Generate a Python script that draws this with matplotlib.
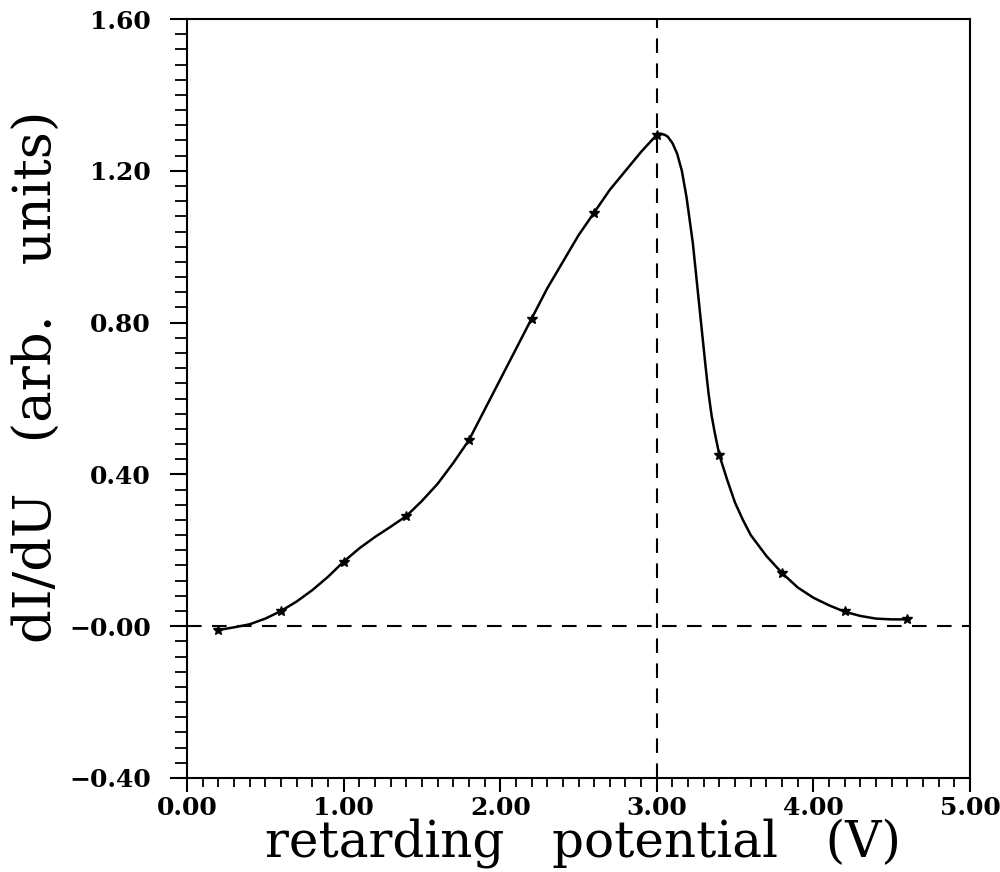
import numpy as np
import matplotlib
matplotlib.use("Agg")
import matplotlib.pyplot as plt
from matplotlib.ticker import FixedLocator, FixedFormatter, MultipleLocator

# measured points (stars)
star_x = [0.2, 0.6, 1.0, 1.4, 1.8, 2.2, 2.6, 3.0, 3.4, 3.8, 4.2, 4.6]
star_y = [-0.01, 0.04, 0.17, 0.29, 0.49, 0.81, 1.09, 1.295, 0.45, 0.14, 0.04, 0.02]

# smooth curve
curve_x = [0.20, 0.30, 0.40, 0.50, 0.60, 0.70, 0.80, 0.90, 1.00, 1.10, 1.20, 1.30,
           1.40, 1.50, 1.60, 1.70, 1.80, 1.90, 2.00, 2.10, 2.20, 2.30, 2.40, 2.50,
           2.60, 2.70, 2.80, 2.90, 3.00, 3.02, 3.05, 3.07, 3.10, 3.13, 3.16, 3.19,
           3.21, 3.23, 3.25, 3.27, 3.29, 3.31, 3.33, 3.35, 3.37, 3.40, 3.45, 3.50,
           3.55, 3.60, 3.70, 3.80, 3.90, 4.00, 4.10, 4.20, 4.30, 4.40, 4.50, 4.60]
curve_y = [-0.010, -0.003, 0.005, 0.020, 0.040, 0.065, 0.095, 0.130, 0.170, 0.205, 0.235, 0.262,
           0.290, 0.330, 0.375, 0.430, 0.490, 0.570, 0.650, 0.730, 0.810, 0.890, 0.960, 1.030,
           1.090, 1.150, 1.200, 1.250, 1.295, 1.298, 1.295, 1.290, 1.273, 1.245, 1.200, 1.130,
           1.070, 1.010, 0.930, 0.850, 0.770, 0.690, 0.615, 0.555, 0.510, 0.450, 0.385, 0.325,
           0.280, 0.240, 0.185, 0.140, 0.102, 0.075, 0.055, 0.038, 0.027, 0.020, 0.018, 0.018]

peak_x = 3.0

xticks = [0, 1, 2, 3, 4, 5]
xticklabels = ["0.00", "1.00", "2.00", "3.00", "4.00", "5.00"]
yticks = [-0.4, 0.0, 0.4, 0.8, 1.2, 1.6]
yticklabels = ["\u22120.40", "\u22120.00", "0.40", "0.80", "1.20", "1.60"]

fig = plt.figure(figsize=(10, 8.72), dpi=100)
ax = fig.add_axes([0.187, 0.1078, 0.783, 0.8704])

ax.plot(curve_x, curve_y, color="black", lw=1.8, solid_joinstyle="round")
ax.plot(star_x, star_y, ls="none", marker="*", ms=7, color="black")

ax.axhline(0.0, color="black", lw=1.5, dashes=(7, 5))
ax.axvline(peak_x, color="black", lw=1.5, dashes=(7, 5))

ax.set_xlim(0, 5)
ax.set_ylim(-0.4, 1.6)

ax.xaxis.set_major_locator(FixedLocator(xticks))
ax.xaxis.set_major_formatter(FixedFormatter(xticklabels))
ax.xaxis.set_minor_locator(MultipleLocator(0.1))
ax.yaxis.set_major_locator(FixedLocator(yticks))
ax.yaxis.set_major_formatter(FixedFormatter(yticklabels))
ax.yaxis.set_minor_locator(MultipleLocator(0.04))

for s in ax.spines.values():
    s.set_linewidth(1.5)

ax.tick_params(axis="x", which="major", direction="out", length=10, width=1.5, pad=3)
ax.tick_params(axis="x", which="minor", direction="out", length=6.5, width=1.3)
ax.tick_params(axis="y", which="major", direction="out", length=12, width=1.5, pad=14)
ax.tick_params(axis="y", which="minor", direction="out", length=8.5, width=1.3)

for lab in ax.get_xticklabels() + ax.get_yticklabels():
    lab.set_fontfamily("DejaVu Serif")
    lab.set_fontweight("bold")
    lab.set_fontsize(18)

ax.set_xlabel("retarding   potential   (V)", fontfamily="DejaVu Serif", fontsize=36,
              va="baseline")
ax.set_ylabel("dI/dU   (arb.   units)", fontfamily="DejaVu Serif", fontsize=38,
              va="baseline")
ax.xaxis.set_label_coords(0.506, -0.104)
ax.yaxis.set_label_coords(-0.172, 0.529)

fig.savefig("out.png", dpi=100)
